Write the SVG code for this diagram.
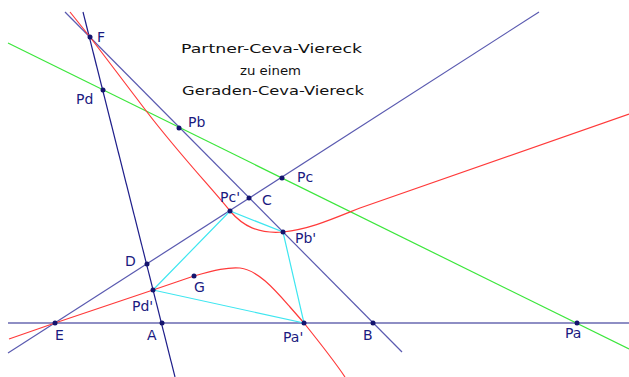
<svg xmlns="http://www.w3.org/2000/svg" width="629" height="377" viewBox="0 0 629 377">
<style>
.dk{stroke:#1e1e8a;stroke-width:1.2;fill:none}
.lt{stroke:#5a5ab0;stroke-width:1.2;fill:none}
.gr{stroke:#3ce63c;stroke-width:1.2;fill:none}
.rd{stroke:#ff3a3a;stroke-width:1.2;fill:none}
.cy{stroke:#3ee6f0;stroke-width:1.2;fill:none}
.pt{fill:#14146e}
.lb{font-family:"DejaVu Sans",sans-serif;font-size:14px;fill:#1a1a80}
.tt{font-family:"DejaVu Sans",sans-serif;font-size:13px;fill:#111}
</style>
<rect width="629" height="377" fill="#fff"/>
<g id="title">
<text class="tt" x="181" y="53" textLength="181" lengthAdjust="spacingAndGlyphs">Partner-Ceva-Viereck</text>
<text class="tt" x="240" y="75" textLength="61" lengthAdjust="spacingAndGlyphs">zu einem</text>
<text class="tt" x="182" y="95" textLength="182" lengthAdjust="spacingAndGlyphs">Geraden-Ceva-Viereck</text>
</g>
<g id="connectors">
<line class="dk" x1="8" y1="323" x2="629" y2="323"/>
<line class="dk" x1="83" y1="12" x2="175" y2="377"/>
<line class="lt" x1="65" y1="12" x2="402" y2="352"/>
<line class="lt" x1="8" y1="353" x2="539" y2="12"/>
<line class="gr" x1="8" y1="43" x2="629" y2="349"/>
<path class="rd" d="M70,12 L90,37 L147,112 C180,155 215,192 230,211 C243,226 258,234 283,232 C310,229 330,220 360,208 L629,114"/>
<path class="rd" d="M9,339 L55,323 L153,290 L194,276 C215,270 228,267 240,268 C258,270 275,290 290,307 L304,323 C320,343 335,362 345,377"/>
<path class="cy" d="M153,290 L230,211 L283,232 L304,323 Z"/>
</g>
<g id="F"><circle class="pt" cx="90" cy="37" r="2.5"/><text class="lb" x="97" y="42">F</text></g>
<g id="Pd"><circle class="pt" cx="103" cy="90" r="2.5"/><text class="lb" x="76" y="104">Pd</text></g>
<g id="Pb"><circle class="pt" cx="179" cy="128" r="2.5"/><text class="lb" x="188" y="127">Pb</text></g>
<g id="Pc"><circle class="pt" cx="282" cy="178" r="2.5"/><text class="lb" x="297" y="182">Pc</text></g>
<g id="C"><circle class="pt" cx="249" cy="198" r="2.5"/><text class="lb" x="262" y="205">C</text></g>
<g id="Pc2"><circle class="pt" cx="230" cy="211" r="2.5"/><text class="lb" x="220" y="202">Pc'</text></g>
<g id="Pb2"><circle class="pt" cx="283" cy="232" r="2.5"/><text class="lb" x="295" y="243">Pb'</text></g>
<g id="D"><circle class="pt" cx="147" cy="264" r="2.5"/><text class="lb" x="125" y="266">D</text></g>
<g id="G"><circle class="pt" cx="194" cy="276" r="2.5"/><text class="lb" x="194" y="292">G</text></g>
<g id="Pd2"><circle class="pt" cx="153" cy="290" r="2.5"/><text class="lb" x="132" y="311">Pd'</text></g>
<g id="E"><circle class="pt" cx="55" cy="323" r="2.5"/><text class="lb" x="55" y="340">E</text></g>
<g id="A"><circle class="pt" cx="162" cy="323" r="2.5"/><text class="lb" x="147" y="340">A</text></g>
<g id="Pa2"><circle class="pt" cx="304" cy="323" r="2.5"/><text class="lb" x="283" y="342">Pa'</text></g>
<g id="B"><circle class="pt" cx="373" cy="323" r="2.5"/><text class="lb" x="363" y="340">B</text></g>
<g id="Pa"><circle class="pt" cx="577" cy="323" r="2.5"/><text class="lb" x="565" y="338">Pa</text></g>
</svg>
